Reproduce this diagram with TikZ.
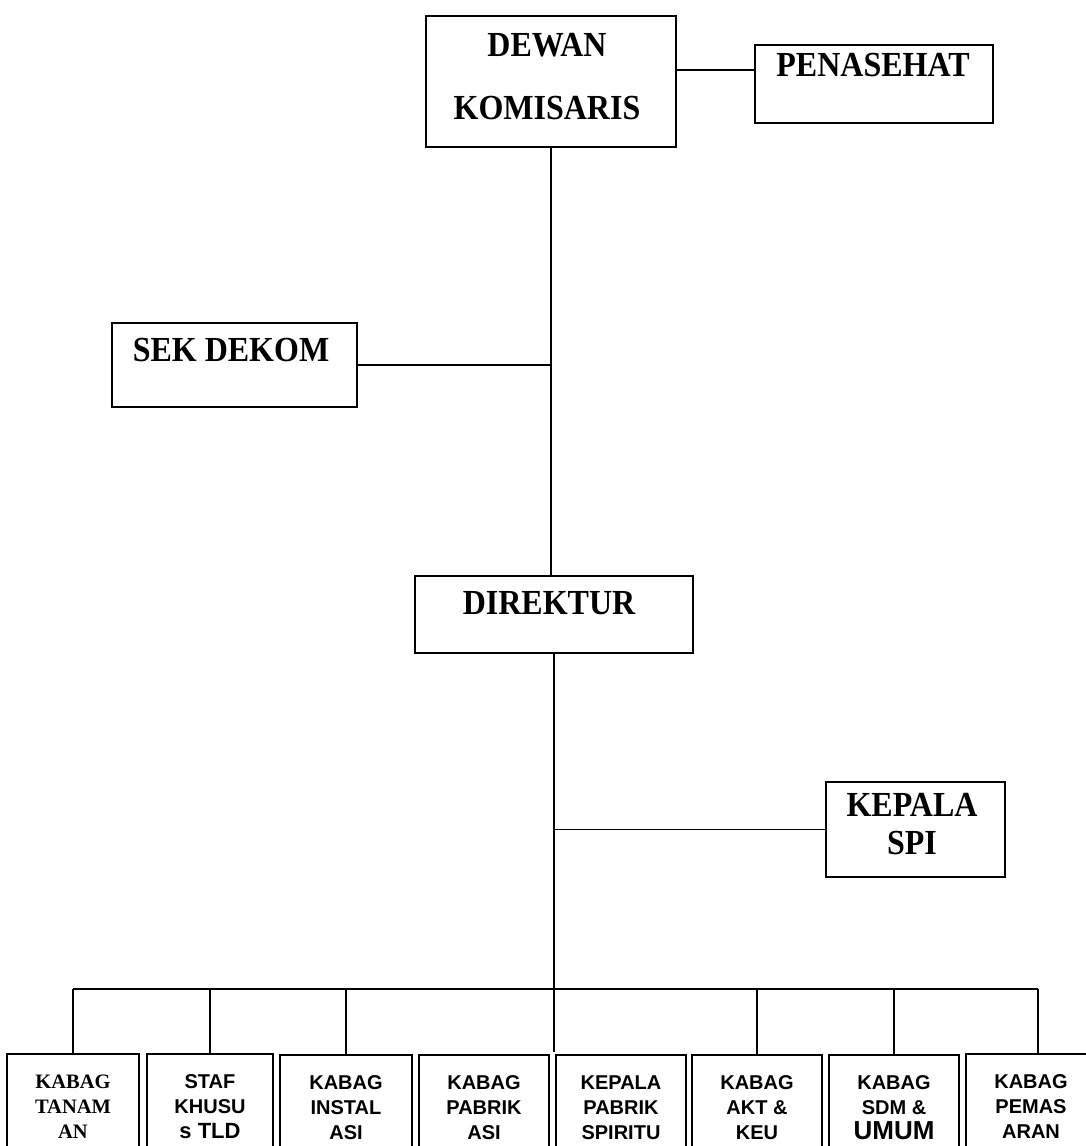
\documentclass[tikz,border=0pt]{standalone}
\usepackage{fontspec}
\setmainfont{Liberation Serif}
\newfontfamily\arialfont{Liberation Sans}
\usepackage{graphicx}
\usepackage{tikz}
\newcommand\stretchtxt[1]{\scalebox{1}[1.1]{#1}}

\begin{document}
\begin{tikzpicture}[x=1pt, y=-1pt,
  box/.style={draw=black, line width=2pt, inner sep=0pt},
  toptext/.style={align=center, font=\fontsize{32}{38}\selectfont\bfseries},
  subbox/.style={draw=black, line width=2pt, minimum width=130pt, minimum height=106pt, align=center, font=\arialfont\fontsize{20}{25}\selectfont\bfseries},
  link/.style={draw=black, line width=1.6pt}]

\clip (0,0) rectangle (1086,1146);

\begin{scope}{
% upper part
\node[box, minimum width=250pt, minimum height=131pt] (dk) at (551,81.5) {};
\node[toptext] (dk-t) at (547,76.5) {\stretchtxt{DEWAN}\\[25pt]\stretchtxt{KOMISARIS}};

\node[box, minimum width=238pt, minimum height=78pt] (pen) at (874,84) {};
\node[toptext] (pen-t) at (873,65) {\stretchtxt{PENASEHAT}};

\node[box, minimum width=245pt, minimum height=84pt] (sek) at (234.5,365) {};
\node[toptext] (sek-t) at (231,350) {\stretchtxt{SEK DEKOM}};

\node[box, minimum width=278pt, minimum height=77pt] (dir) at (554,614.5) {};
\node[toptext] (dir-t) at (549,603) {\stretchtxt{DIREKTUR}};

\node[box, minimum width=179pt, minimum height=95pt] (spi) at (915.5,829.5) {};
\node[toptext] (spi-t) at (912,824.5) {\stretchtxt{KEPALA}\\\stretchtxt{SPI}};

\coordinate (penlink) at (0,70);
\draw[link] (dk.east |- penlink) -- (pen.west |- penlink);
\draw[link] (dk.south) -- (dk.south |- dir.north);
\draw[link] (sek.east) -- (sek.east -| dk.south);
\draw[link] (dir.south) -- (dir.south |- 0,1052);
\draw[link] (dir.south |- spi.west) -- (spi.west);
} \end{scope}

\begin{scope}{
% bottom row
\node[subbox, minimum width=132pt, font=\fontsize{20.5}{25}\selectfont\bfseries] (k1) at (73,1107) {KABAG\\TANAM\\AN};
\node[subbox, minimum width=126pt] (k2) at (210,1107) {STAF\\KHUSU\\{\fontsize{22}{25}\selectfont s TLD}};
\node[subbox, minimum width=132pt] (k3) at (346,1108) {KABAG\\INSTAL\\ASI};
\node[subbox] (k4) at (484,1108) {KABAG\\PABRIK\\ASI};
\node[subbox] (k5) at (621,1108) {KEPALA\\PABRIK\\SPIRITU};
\node[subbox] (k6) at (757,1108) {KABAG\\AKT \&\\KEU};
\node[subbox] (k7) at (894,1108) {KABAG\\SDM \&\\{\fontsize{26}{25}\selectfont UMUM}};
\node[subbox] (k8) at (1031,1107) {KABAG\\PEMAS\\ARAN};

\coordinate (busL) at (73,989);
\coordinate (busR) at (1038,989);
\draw[link] (busL) -- (busR);

\draw[link] (k1.north |- busL) -- (k1.north);
\draw[link] (k2.north |- busL) -- (k2.north);
\draw[link] (k3.north |- busL) -- (k3.north);
\draw[link] (k6.north |- busL) -- (k6.north);
\draw[link] (k7.north |- busL) -- (k7.north);
\draw[link] (busR) -- (busR |- k8.north);
} \end{scope}

\end{tikzpicture}
\end{document}
